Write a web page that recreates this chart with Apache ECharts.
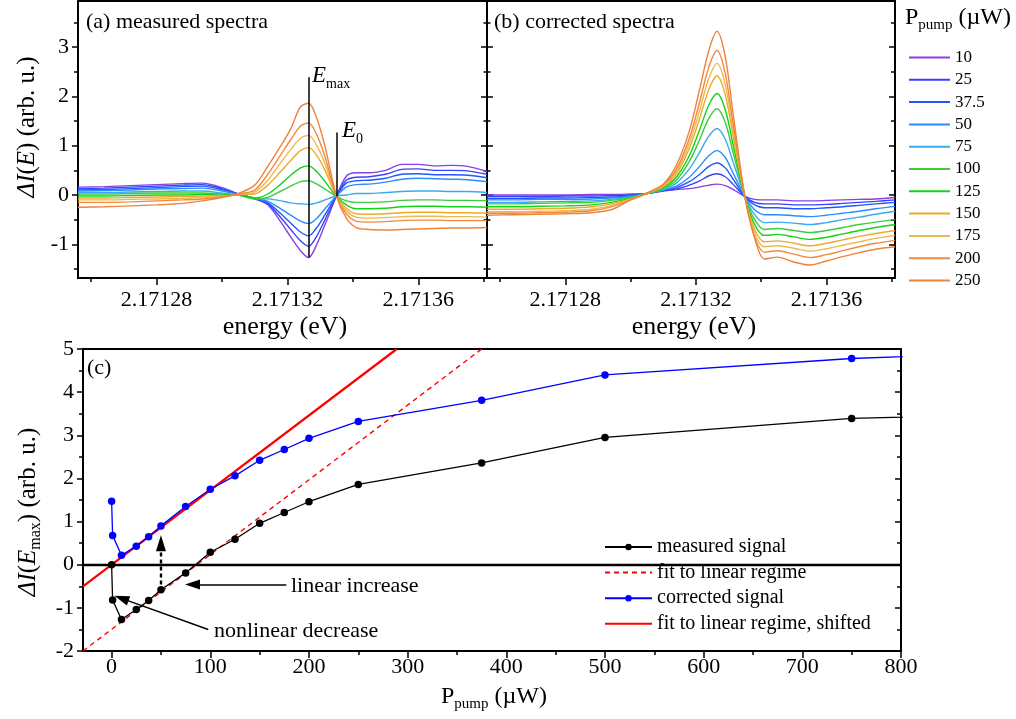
<!DOCTYPE html>
<html>
<head>
<meta charset="utf-8">
<script src="https://cdn.jsdelivr.net/npm/echarts@6/dist/echarts.min.js"></script>
<style>
  html, body { margin: 0; padding: 0; background: #fff; }
  #chart { width: 1016px; height: 719px; }
</style>
</head>
<body>
<div id="chart"></div>
<script>
const FONT = '"Liberation Serif", "Times New Roman", serif';

// ---- spectra: pump powers (µW) and their colours ----
const powers = ['10', '25', '37.5', '50', '75', '100', '125', '150', '175', '200', '250'];
const lineColors = ['#8a3fe0', '#3344ff', '#2255ff', '#2a8cff', '#3aaaf0', '#3ccc3c', '#14d214',
                    '#eeaa2a', '#eeb852', '#f08a3e', '#f0823a'];

// photon energies (eV) at which the spectra are sampled
const energies = [2.171256, 2.171264, 2.171272, 2.17128, 2.171288, 2.171294, 2.1713, 2.171305,
                  2.17131, 2.171314, 2.171318, 2.171321, 2.171324, 2.1713265, 2.171329, 2.1713315,
                  2.171335, 2.171338, 2.171341, 2.171345, 2.17135, 2.171355, 2.17136, 2.171365,
                  2.17137, 2.171375, 2.171381];

// (a) measured differential spectra, one per pump power
const m10  = [0.16,0.17,0.19,0.21,0.23,0.24,0.15,0.02,-0.08,-0.20,-0.55,-0.85,-1.13,-1.27,-1.00,-0.60,-0.02,0.38,0.45,0.45,0.50,0.62,0.62,0.59,0.60,0.58,0.48];
const m25  = [0.13,0.14,0.16,0.18,0.20,0.21,0.13,0.02,-0.07,-0.18,-0.46,-0.70,-0.93,-1.04,-0.83,-0.50,-0.02,0.30,0.36,0.37,0.42,0.52,0.53,0.50,0.50,0.49,0.42];
const m375 = [0.10,0.11,0.13,0.15,0.17,0.18,0.11,0.02,-0.07,-0.16,-0.38,-0.57,-0.75,-0.83,-0.66,-0.40,-0.02,0.24,0.29,0.30,0.34,0.42,0.43,0.41,0.41,0.40,0.35];
const m50  = [0.08,0.09,0.10,0.12,0.13,0.14,0.08,0.01,-0.07,-0.13,-0.28,-0.41,-0.53,-0.58,-0.47,-0.28,-0.02,0.16,0.21,0.22,0.26,0.32,0.34,0.33,0.32,0.31,0.27];
const m75  = [0.05,0.05,0.06,0.07,0.08,0.08,0.04,0.00,-0.06,-0.08,-0.12,-0.16,-0.18,-0.19,-0.16,-0.10,-0.02,0.00,0.03,0.03,0.05,0.07,0.08,0.08,0.07,0.07,0.05];
const m100 = [0.02,0.02,0.03,0.04,0.04,0.04,0.02,0.00,-0.08,-0.05,0.08,0.18,0.27,0.29,0.22,0.12,-0.03,-0.12,-0.15,-0.15,-0.14,-0.11,-0.10,-0.10,-0.11,-0.11,-0.12];
const m125 = [-0.02,-0.02,-0.01,0.00,0.00,0.01,0.00,0.00,-0.06,0.02,0.22,0.40,0.55,0.59,0.47,0.27,-0.03,-0.20,-0.28,-0.28,-0.27,-0.24,-0.23,-0.23,-0.24,-0.24,-0.25];
const m150 = [-0.06,-0.06,-0.05,-0.04,-0.03,-0.02,-0.02,0.01,0.02,0.20,0.48,0.70,0.90,0.96,0.80,0.50,-0.03,-0.27,-0.38,-0.39,-0.38,-0.36,-0.35,-0.35,-0.36,-0.36,-0.37];
const m175 = [-0.10,-0.10,-0.09,-0.08,-0.07,-0.05,-0.03,0.01,0.06,0.30,0.66,0.92,1.15,1.21,1.00,0.63,-0.03,-0.32,-0.45,-0.47,-0.46,-0.44,-0.43,-0.43,-0.44,-0.44,-0.45];
const m200 = [-0.15,-0.15,-0.14,-0.12,-0.10,-0.08,-0.04,0.02,0.10,0.42,0.82,1.12,1.40,1.46,1.22,0.77,-0.03,-0.38,-0.53,-0.55,-0.54,-0.52,-0.51,-0.51,-0.52,-0.52,-0.52];
const m250 = [-0.25,-0.24,-0.22,-0.20,-0.17,-0.12,-0.05,0.03,0.20,0.58,1.00,1.34,1.79,1.86,1.55,0.98,-0.02,-0.47,-0.66,-0.70,-0.71,-0.70,-0.69,-0.68,-0.67,-0.67,-0.66];

// (b) corrected spectra
const c10  = [0.00,0.00,0.00,0.00,0.01,0.01,0.02,0.03,0.08,0.11,0.13,0.16,0.20,0.22,0.19,0.11,-0.03,-0.09,-0.10,-0.10,-0.12,-0.12,-0.11,-0.10,-0.09,-0.08,-0.05];
const c25  = [-0.03,-0.03,-0.03,-0.02,-0.02,-0.01,0.00,0.03,0.09,0.12,0.20,0.28,0.39,0.43,0.37,0.21,-0.03,-0.15,-0.18,-0.18,-0.20,-0.20,-0.19,-0.17,-0.15,-0.13,-0.10];
const c375 = [-0.07,-0.07,-0.06,-0.06,-0.05,-0.04,-0.02,0.03,0.09,0.15,0.27,0.41,0.58,0.65,0.55,0.31,-0.03,-0.20,-0.26,-0.26,-0.28,-0.28,-0.26,-0.24,-0.21,-0.18,-0.15];
const c50  = [-0.10,-0.10,-0.09,-0.09,-0.08,-0.06,-0.03,0.03,0.10,0.18,0.36,0.57,0.80,0.90,0.76,0.43,-0.03,-0.30,-0.40,-0.40,-0.42,-0.44,-0.41,-0.37,-0.33,-0.28,-0.23];
const c75  = [-0.15,-0.15,-0.14,-0.13,-0.12,-0.09,-0.04,0.03,0.11,0.24,0.53,0.85,1.20,1.35,1.13,0.65,-0.03,-0.40,-0.56,-0.55,-0.57,-0.60,-0.56,-0.50,-0.45,-0.39,-0.33];
const c100 = [-0.18,-0.18,-0.17,-0.16,-0.15,-0.11,-0.05,0.03,0.13,0.30,0.68,1.10,1.56,1.75,1.47,0.84,-0.03,-0.50,-0.70,-0.68,-0.72,-0.76,-0.72,-0.66,-0.60,-0.55,-0.50];
const c125 = [-0.24,-0.24,-0.23,-0.22,-0.20,-0.15,-0.07,0.03,0.15,0.36,0.80,1.30,1.83,2.06,1.73,0.99,-0.03,-0.60,-0.82,-0.80,-0.85,-0.90,-0.86,-0.79,-0.72,-0.66,-0.60];
const c150 = [-0.29,-0.29,-0.28,-0.27,-0.24,-0.18,-0.08,0.03,0.17,0.42,0.95,1.52,2.15,2.42,2.03,1.16,-0.03,-0.70,-0.95,-0.93,-0.98,-1.03,-0.98,-0.91,-0.84,-0.78,-0.72];
const c175 = [-0.34,-0.34,-0.33,-0.32,-0.29,-0.21,-0.09,0.03,0.19,0.47,1.05,1.68,2.38,2.67,2.24,1.28,-0.03,-0.78,-1.05,-1.03,-1.08,-1.14,-1.09,-1.02,-0.95,-0.88,-0.82];
const c200 = [-0.37,-0.37,-0.36,-0.35,-0.32,-0.24,-0.10,0.04,0.21,0.52,1.15,1.85,2.60,2.93,2.46,1.40,-0.03,-0.85,-1.16,-1.13,-1.20,-1.27,-1.21,-1.13,-1.05,-0.98,-0.92];
const c250 = [-0.41,-0.40,-0.39,-0.38,-0.36,-0.30,-0.10,0.04,0.22,0.60,1.30,2.10,2.94,3.32,2.80,1.60,-0.03,-0.88,-1.30,-1.26,-1.36,-1.42,-1.34,-1.25,-1.17,-1.10,-1.05];

// marker lines at E_max and E_0 (energy, lower end, upper end)
const eMaxLine = [2.1713265, -1.27, 2.39];
const eZeroLine = [2.171335, -0.03, 1.27];

// ---- (c) signal at E_max versus pump power ----
const pumpPower       = [0, 1, 10, 25, 37.5, 50, 75, 100, 125, 150, 175, 200, 250, 375, 500, 750, 1000];
const measuredSignal  = [0, -0.82, -1.27, -1.04, -0.83, -0.58, -0.19, 0.29, 0.59, 0.96, 1.21, 1.46, 1.86, 2.36, 2.95, 3.39, 3.54];
const correctedSignal = [1.47, 0.68, 0.22, 0.43, 0.65, 0.90, 1.35, 1.75, 2.06, 2.42, 2.67, 2.93, 3.32, 3.81, 4.40, 4.78, 4.98];
// straight-line fits, given by their end points [P, ΔI]
const linearFit        = [[-29, -2.0], [375, 5.0]];
const linearFitShifted = [[-29, -0.5], [289, 5.0]];

// annotation arrows, [P, ΔI] of tail and head
const arrowLinear    = [[177, -0.46], [82, -0.46]];
const arrowNonlinear = [[97.9, -1.50], [10.0, -0.78]];
const arrowShift     = [[50, -0.46], [50, 0.50]];

// axis ranges and tick values
const eRange = [2.171256, 2.171381];
const sRange = [-1.684, 3.935];
const pRange = [-29, 800];
const dRange = [-2, 5];
const eTicks = [2.17128, 2.17132, 2.17136];
const eMinorTicks = [2.17126, 2.1713, 2.17134, 2.17138];
const sTicks = [-1, 0, 1, 2, 3];
const sMinorTicks = [-1.5, -0.5, 0.5, 1.5, 2.5, 3.5];
const pTicks = [0, 100, 200, 300, 400, 500, 600, 700, 800];
const pMinorTicks = [50, 150, 250, 350, 450, 550, 650, 750];
const dTicks = [-2, -1, 0, 1, 2, 3, 4, 5];
const dMinorTicks = [-1.5, -0.5, 0.5, 1.5, 2.5, 3.5, 4.5];

const measuredSpectra = [m10, m25, m375, m50, m75, m100, m125, m150, m175, m200, m250];
const correctedSpectra = [c10, c25, c375, c50, c75, c100, c125, c150, c175, c200, c250];

// ---- axis helpers ----
function axis(gridIndex, position, range) {
  return {
    type: 'value', gridIndex, position, min: range[0], max: range[1],
    splitLine: { show: false },
    axisLine: { show: false, onZero: false },
    axisTick: { show: false },
    axisLabel: { show: false }
  };
}
function withLine(ax) {
  ax.axisLine = { show: true, onZero: false, lineStyle: { color: '#000', width: 2 } };
  return ax;
}
function withTicks(ax, values, length, inside) {
  ax.axisTick = { show: true, inside, length, customValues: values,
                  lineStyle: { color: '#000', width: 1.5 } };
  return ax;
}
function withLabels(ax, values, margin, fmt) {
  ax.axisLabel = { show: true, customValues: values, margin, formatter: fmt,
                   color: '#000', fontSize: 22, fontFamily: FONT };
  return ax;
}
const fmtE = v => v.toFixed(5);
const fmtI = v => String(Math.round(v));

const xAxis = [
  withLabels(withTicks(withLine(axis(0, 'bottom', eRange)), eTicks, 7, false), eTicks, 11, fmtE), // 0
  withTicks(axis(0, 'bottom', eRange), eMinorTicks, 4, false),                                    // 1
  withLine(axis(0, 'top', eRange)),                                                               // 2
  withLabels(withTicks(withLine(axis(1, 'bottom', eRange)), eTicks, 7, false), eTicks, 11, fmtE), // 3
  withTicks(axis(1, 'bottom', eRange), eMinorTicks, 4, false),                                    // 4
  withLine(axis(1, 'top', eRange)),                                                               // 5
  withLabels(withTicks(withLine(axis(2, 'bottom', pRange)), pTicks, 7, false), pTicks, 5, fmtI),  // 6
  withTicks(axis(2, 'bottom', pRange), pMinorTicks, 4, false),                                    // 7
  withLine(axis(2, 'top', pRange))                                                                // 8
];
const yAxis = [
  withLabels(withTicks(withLine(axis(0, 'left', sRange)), sTicks, 6, false), sTicks, 9, fmtI),   // 0
  withTicks(axis(0, 'left', sRange), sMinorTicks, 4, false),                                     // 1
  withTicks(withLine(axis(0, 'right', sRange)), sTicks, 6, true),                                // 2
  withTicks(axis(0, 'right', sRange), sMinorTicks, 3.5, true),                                   // 3
  withTicks(withLine(axis(1, 'left', sRange)), sTicks, 6, true),                                 // 4
  withTicks(axis(1, 'left', sRange), sMinorTicks, 3.5, true),                                    // 5
  withTicks(withLine(axis(1, 'right', sRange)), sTicks, 6, true),                                // 6
  withTicks(axis(1, 'right', sRange), sMinorTicks, 4, true),                                     // 7
  withLabels(withTicks(withLine(axis(2, 'left', dRange)), dTicks, 6, false), dTicks, 9, fmtI),   // 8
  withTicks(axis(2, 'left', dRange), dMinorTicks, 4, false),                                     // 9
  withTicks(withLine(axis(2, 'right', dRange)), dTicks, 6, true),                                // 10
  withTicks(axis(2, 'right', dRange), dMinorTicks, 4, true)                                      // 11
];

// ---- series ----
const series = [];
powers.forEach((p, i) => {
  const spec = {
    type: 'line', name: p, xAxisIndex: 0, yAxisIndex: 0,
    data: energies.map((e, k) => [e, measuredSpectra[i][k]]),
    symbol: 'none', smooth: 0.3,
    lineStyle: { width: 1.4, color: lineColors[i] }, itemStyle: { color: lineColors[i] }
  };
  if (i === 0) {
    spec.markLine = {
      silent: true, symbol: 'none', animation: false, label: { show: false },
      lineStyle: { color: '#000', width: 1.5, type: 'solid' },
      data: [
        [{ coord: [eMaxLine[0], eMaxLine[1]] }, { coord: [eMaxLine[0], eMaxLine[2]] }],
        [{ coord: [eZeroLine[0], eZeroLine[1]] }, { coord: [eZeroLine[0], eZeroLine[2]] }]
      ]
    };
  }
  series.push(spec);
});
powers.forEach((p, i) => {
  series.push({
    type: 'line', name: p, xAxisIndex: 3, yAxisIndex: 4,
    data: energies.map((e, k) => [e, correctedSpectra[i][k]]),
    symbol: 'none', smooth: 0.3,
    lineStyle: { width: 1.4, color: lineColors[i] }, itemStyle: { color: lineColors[i] }
  });
});

series.push({
  type: 'line', name: 'fit to linear regime', xAxisIndex: 6, yAxisIndex: 8,
  data: linearFit, symbol: 'none', clip: true,
  lineStyle: { color: '#ff0000', width: 1.4, type: [5, 4] }, itemStyle: { color: '#ff0000' }
});
series.push({
  type: 'line', name: 'fit to linear regime, shifted', xAxisIndex: 6, yAxisIndex: 8,
  data: linearFitShifted, symbol: 'none', clip: true,
  lineStyle: { color: '#ff0000', width: 2.2 }, itemStyle: { color: '#ff0000' }
});
series.push({
  type: 'line', name: 'measured signal', xAxisIndex: 6, yAxisIndex: 8,
  data: pumpPower.map((p, k) => [p, measuredSignal[k]]),
  symbol: 'circle', symbolSize: 7.5, clip: true,
  lineStyle: { color: '#000', width: 1.3 }, itemStyle: { color: '#000' },
  markLine: {
    silent: true, animation: false, label: { show: false }, symbol: 'none',
    data: [
      { yAxis: 0, symbol: 'none', lineStyle: { color: '#000', width: 2.4, type: 'solid' } },
      [{ coord: arrowLinear[0], symbol: 'none', lineStyle: { color: '#000', width: 1.5, type: 'solid' } },
       { coord: arrowLinear[1], symbol: 'triangle', symbolSize: [10, 15] }],
      [{ coord: arrowNonlinear[0], symbol: 'none', lineStyle: { color: '#000', width: 1.5, type: 'solid' } },
       { coord: arrowNonlinear[1], symbol: 'triangle', symbolSize: [10, 15] }],
      [{ coord: arrowShift[0], symbol: 'none', lineStyle: { color: '#000', width: 2.4, type: [4, 3] } },
       { coord: arrowShift[1], symbol: 'triangle', symbolSize: [10, 16] }]
    ]
  }
});
series.push({
  type: 'line', name: 'corrected signal', xAxisIndex: 6, yAxisIndex: 8,
  data: pumpPower.map((p, k) => [p, correctedSignal[k]]),
  symbol: 'circle', symbolSize: 7.5, clip: true,
  lineStyle: { color: '#0000ff', width: 1.3 }, itemStyle: { color: '#0000ff' }
});

// ---- free text: panel titles, axis names, annotations ----
const base = { fill: '#000', fontFamily: FONT };
function txt(x, y, text, size, extra) {
  return Object.assign({ type: 'text', x, y, silent: true,
    style: Object.assign({}, base, { text, fontSize: size, verticalAlign: 'middle', align: 'left' }) }, extra || {});
}
function richTxt(x, y, text, rich, align, rotation) {
  return { type: 'text', x, y, rotation: rotation || 0, silent: true,
    style: Object.assign({}, base, { text, rich, align, verticalAlign: 'middle' }) };
}
const yNameRich = {
  n:  { fontSize: 25, fontFamily: FONT, lineHeight: 32, verticalAlign: 'middle' },
  it: { fontSize: 25, fontFamily: FONT, fontStyle: 'italic', lineHeight: 32, verticalAlign: 'middle' },
  s:  { fontSize: 16, fontFamily: FONT, lineHeight: 16, verticalAlign: 'bottom' }
};
const pRich = {
  n: { fontSize: 24, fontFamily: FONT, lineHeight: 30, verticalAlign: 'middle' },
  s: { fontSize: 15, fontFamily: FONT, lineHeight: 15, verticalAlign: 'bottom' }
};
const eRich = {
  e: { fontSize: 23, fontFamily: FONT, fontStyle: 'italic', lineHeight: 30, verticalAlign: 'middle' },
  s: { fontSize: 14, fontFamily: FONT, lineHeight: 14, verticalAlign: 'bottom' }
};

const graphic = [
  txt(86, 22, '(a) measured spectra', 22),
  txt(494, 22, '(b) corrected spectra', 22),
  txt(87, 368, '(c)', 22),
  txt(291, 586, 'linear increase', 22),
  txt(214, 631, 'nonlinear decrease', 22),
  richTxt(312, 76, '{e|E}{s|max}', eRich, 'left'),
  richTxt(342, 131, '{e|E}{s|0}', eRich, 'left'),
  richTxt(27, 127, '{it|ΔI}{n|(}{it|E}{n|) (arb. u.)}', yNameRich, 'center', Math.PI / 2),
  richTxt(28, 512, '{it|ΔI}{n|(}{it|E}{s|max}{n|) (arb. u.)}', yNameRich, 'center', Math.PI / 2),
  richTxt(285, 327, '{n|energy (eV)}', { n: { fontSize: 26, fontFamily: FONT } }, 'center'),
  richTxt(694, 327, '{n|energy (eV)}', { n: { fontSize: 26, fontFamily: FONT } }, 'center'),
  richTxt(494, 697, '{n|P}{s|pump}{n| (µW)}', pRich, 'center'),
  richTxt(905, 18, '{n|P}{s|pump}{n| (µW)}', pRich, 'left')
];

// legend entries drawn as plain lines (no marker)
const noMarker = { color: 'rgba(0,0,0,0)', borderWidth: 0 };

const option = {
  animation: false,
  backgroundColor: '#fff',
  grid: [
    { left: 78, top: 1, width: 409, height: 277, containLabel: false },
    { left: 487, top: 1, width: 408, height: 277, containLabel: false },
    { left: 83, top: 349, width: 818, height: 302, containLabel: false }
  ],
  xAxis, yAxis, series, graphic,
  legend: [
    {
      data: powers.map(p => ({ name: p, itemStyle: noMarker })),
      orient: 'vertical', left: 908, top: 49, selectedMode: false,
      itemWidth: 41, itemHeight: 12, itemGap: 5.3, padding: 0,
      lineStyle: { width: 2 },
      textStyle: { fontSize: 17, lineHeight: 17, fontFamily: FONT, color: '#000' }
    },
    {
      data: [
        { name: 'measured signal' },
        { name: 'fit to linear regime', itemStyle: noMarker },
        { name: 'corrected signal' },
        { name: 'fit to linear regime, shifted', itemStyle: noMarker }
      ],
      orient: 'vertical', left: 601, top: 535, selectedMode: false,
      itemWidth: 47, itemHeight: 8, itemGap: 5.6, padding: [2, 4, 2, 3],
      backgroundColor: '#fff',
      textStyle: { fontSize: 20, lineHeight: 20, fontFamily: FONT, color: '#000' }
    }
  ]
};

const chart = echarts.init(document.getElementById('chart'));
chart.setOption(option);
</script>
</body>
</html>
